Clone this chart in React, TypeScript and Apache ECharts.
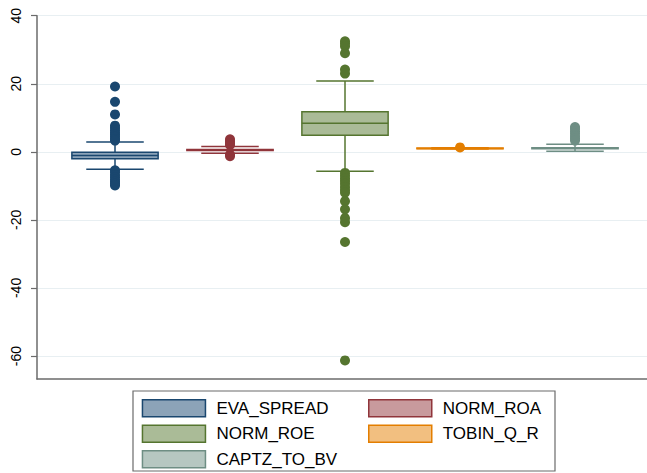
import React, { useEffect, useRef } from "react";
import * as echarts from "echarts";

// ---- data ----
const categories = ["EVA_SPREAD", "NORM_ROA", "NORM_ROE", "TOBIN_Q_R", "CAPTZ_TO_BV"];
// [lower whisker, Q1, median, Q3, upper whisker]
const boxEVA = [-5.1, -2.0, -1.1, -0.1, 2.9];
const boxROA = [-0.4, 0.4, 0.55, 0.7, 1.6];
const boxROE = [-5.7, 4.9, 8.4, 11.8, 20.8];
const boxTOBIN = [0.85, 0.9, 1.0, 1.15, 1.2];
const boxCAPTZ = [0.2, 0.9, 1.05, 1.2, 2.2];
const outEVA = [19.2, 14.7, 11.0, 7.7, 7.0, 6.3, 5.6, 5.0, 4.4, 3.8, 3.3, -5.4, -6.0, -6.8, -7.5, -8.2, -8.8, -9.4, -9.9];
const outROA = [3.7, 3.1, 2.5, 2.0, -0.8, -1.3];
const outROE = [32.5, 31.8, 31.0, 29.0, 24.2, 23.0, -6.2, -7.0, -7.8, -8.6, -9.4, -10.3, -11.2, -12.0, -14.5, -16.9, -19.5, -20.7, -26.5, -61.3];
const outTOBIN = [1.3];
const outCAPTZ = [7.3, 6.7, 6.0, 5.3, 4.6, 3.9, 3.3];
const yTicks = [-60, -40, -20, 0, 20, 40];

const boxes = [boxEVA, boxROA, boxROE, boxTOBIN, boxCAPTZ];
const outliers = [outEVA, outROA, outROE, outTOBIN, outCAPTZ];
const lineColors = ["#1a476f", "#90353b", "#55752f", "#e37e00", "#6e8e84"];
const fillColors = ["#8ca3b8", "#c89a9d", "#aabb97", "#f2bf80", "#b6c7c1"];

const FONT = "Helvetica, Arial, 'Liberation Sans', sans-serif";

export default function App() {
  const ref = useRef<HTMLDivElement>(null);
  useEffect(() => {
    if (!ref.current) return;
    const chart = echarts.init(ref.current, null, { renderer: "svg" });

    const boxSeries = categories.map((name, i) => ({
      name,
      type: "custom",
      z: 2,
      encode: { x: 0, y: [1, 2, 3, 4, 5] },
      itemStyle: { color: fillColors[i], borderColor: lineColors[i] },
      data: [[i + 1, ...boxes[i]]],
      renderItem: (params: any, api: any) => {
        const x = api.value(0);
        const wl = api.coord([x, api.value(1)]);
        const q1 = api.coord([x, api.value(2)]);
        const md = api.coord([x, api.value(3)]);
        const q3 = api.coord([x, api.value(4)]);
        const wh = api.coord([x, api.value(5)]);
        const bw = api.size([0.75, 0])[0];
        const cw = api.size([0.5, 0])[0];
        const lc = lineColors[i];
        const ls = { stroke: lc, lineWidth: 1.5 };
        return {
          type: "group",
          children: [
            { type: "line", shape: { x1: wh[0], y1: wh[1], x2: q3[0], y2: q3[1] }, style: ls },
            { type: "line", shape: { x1: wl[0], y1: wl[1], x2: q1[0], y2: q1[1] }, style: ls },
            { type: "line", shape: { x1: wh[0] - cw / 2, y1: wh[1], x2: wh[0] + cw / 2, y2: wh[1] }, style: ls },
            { type: "line", shape: { x1: wl[0] - cw / 2, y1: wl[1], x2: wl[0] + cw / 2, y2: wl[1] }, style: ls },
            {
              type: "rect",
              shape: { x: q3[0] - bw / 2, y: q3[1], width: bw, height: q1[1] - q3[1] },
              style: { fill: fillColors[i], stroke: lc, lineWidth: 1.5 },
            },
            { type: "line", shape: { x1: md[0] - bw / 2, y1: md[1], x2: md[0] + bw / 2, y2: md[1] }, style: ls },
          ],
        };
      },
    }));

    const outSeries = categories.map((name, i) => ({
      name,
      type: "scatter",
      z: 3,
      symbol: "circle",
      symbolSize: 10,
      itemStyle: { color: lineColors[i], opacity: 1 },
      data: outliers[i].map((v) => [i + 1, v]),
    }));

    const legendItem = (i: number) => ({
      name: categories[i],
      itemStyle: { color: fillColors[i], borderColor: lineColors[i], borderWidth: 1.5 },
    });
    const legendCommon = {
      orient: "vertical",
      padding: 0,
      icon: "rect",
      itemWidth: 63,
      itemHeight: 17,
      itemGap: 7,
      selectedMode: false,
      textStyle: { fontSize: 17, color: "#000", fontFamily: FONT, padding: [0, 0, 0, 6], lineHeight: 17 },
    };

    chart.setOption({
      animation: false,
      backgroundColor: "#fff",
      grid: { left: 37, right: 0, top: 15.7, bottom: 94 },
      xAxis: {
        type: "value",
        min: 0.3217,
        max: 5.626,
        axisLine: { show: true, onZero: false, lineStyle: { color: "#6b6b6b", width: 1.5 } },
        axisTick: { show: false },
        axisLabel: { show: false },
        splitLine: { show: false },
      },
      yAxis: {
        type: "value",
        min: -66.75,
        max: 40,
        axisLine: { show: true, onZero: false, lineStyle: { color: "#6b6b6b", width: 1.5 } },
        axisTick: { show: true, length: 6, customValues: yTicks, lineStyle: { color: "#6b6b6b", width: 1.2 } },
        axisLabel: {
          customValues: yTicks,
          rotate: 90,
          margin: 14,
          fontSize: 14,
          color: "#000",
          fontFamily: FONT,
        },
        splitLine: { show: true, lineStyle: { color: "#e8eff2", width: 1 } },
      },
      legend: [
        { ...legendCommon, left: 141.7, top: 399, data: [0, 2, 4].map(legendItem) },
        { ...legendCommon, left: 368, top: 399, data: [1, 3].map(legendItem) },
      ],
      graphic: [
        {
          type: "rect",
          shape: { x: 133, y: 391, width: 422, height: 80 },
          style: { fill: "none", stroke: "#6b6b6b", lineWidth: 1.2 },
          silent: true,
        },
      ],
      series: [...boxSeries, ...outSeries],
    });
    return () => chart.dispose();
  }, []);
  return <div ref={ref} style={{ position: "absolute", left: 0, top: 0, width: 647, height: 473 }} />;
}
